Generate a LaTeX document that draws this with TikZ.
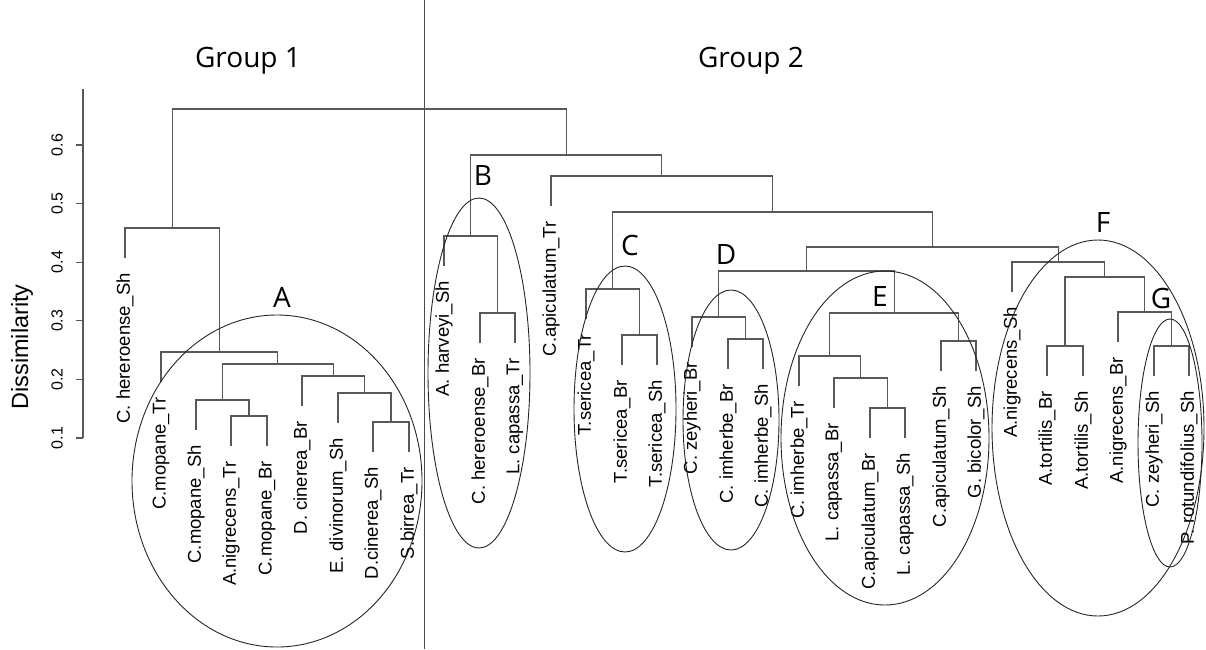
\documentclass[tikz,border=0pt]{standalone}
\usepackage{fontspec}
\setmainfont{Liberation Sans}
\newfontfamily\grpfont{Open Sans}
\begin{document}
\begin{tikzpicture}[x=1pt,y=-1pt,
  dend/.style={draw=black!65, line width=1.1pt},
  lab/.style={rotate=90, anchor=east, inner sep=0pt, font=\fontsize{18.5}{20}\selectfont},
  ell/.style={draw=black!85, line width=0.9pt},
  grp/.style={font=\grpfont\fontsize{28}{30}\selectfont, inner sep=0pt},
  tick/.style={rotate=90, inner sep=0pt, font=\fontsize{16}{18}\selectfont},
]
\useasboundingbox (0,0) rectangle (1206,649);
\newcommand\dleaf[4]{\coordinate (#1) at ({#2},{#3+30}); \node[lab] (#1t) at ({#2},{#3+45}) {#4};}
% divider
\draw[draw=black!70, line width=1pt] (424,0) coordinate (dvt) -- (424,649) coordinate (dvb);
% axis
\coordinate (axt) at (83,89);
\coordinate (axb) at (83,438);
\draw[dend] (axt) -- (axb);
\foreach \v/\yy in {0.1/438,0.2/379.4,0.3/320.8,0.4/262.2,0.5/203.6,0.6/145}{
  \draw[dend] (76,\yy) -- (83,\yy);
  \node[tick] at (57,\yy) {\v};
}
\node[rotate=90, inner sep=0pt, font=\fontsize{23.5}{26}\selectfont] (ylab) at (22,347) {Dissimilarity};
% group titles
\node[grp, anchor=base] (g1) at (248,67) {Group 1};
\node[grp, anchor=base] (g2) at (751,67) {Group 2};
% leaves
\dleaf{l0}{125}{228}{C. hereroense\_Sh}
\dleaf{l1}{161}{352}{C.mopane\_Tr}
\dleaf{l2}{196}{400}{C.mopane\_Sh}
\dleaf{l3}{231}{416}{A.nigrecens\_Tr}
\dleaf{l4}{267}{416}{C.mopane\_Br}
\dleaf{l5}{302}{376}{D. cinerea\_Br}
\dleaf{l6}{338}{393}{E. divinorum\_Sh}
\dleaf{l7}{373}{422}{D.cinerea\_Sh}
\dleaf{l8}{409}{422}{S.birrea\_Tr}
\dleaf{l9}{444}{236}{A. harveyi\_Sh}
\dleaf{l10}{480}{313}{C. hereroense\_Br}
\dleaf{l11}{515}{313}{L. capassa\_Tr}
\dleaf{l12}{551}{176}{C.apiculatum\_Tr}
\dleaf{l13}{586}{289}{T.sericea\_Tr}
\dleaf{l14}{622}{335}{T.sericea\_Br}
\dleaf{l15}{657}{335}{T.sericea\_Sh}
\dleaf{l16}{692}{317}{C. zeyheri\_Br}
\dleaf{l17}{728}{339}{C. imherbe\_Br}
\dleaf{l18}{763}{339}{C. imherbe\_Sh}
\dleaf{l19}{799}{356}{C. imherbe\_Tr}
\dleaf{l20}{834}{378}{L. capassa\_Br}
\dleaf{l21}{870}{408}{C.apiculatum\_Br}
\dleaf{l22}{905}{408}{L. capassa\_Sh}
\dleaf{l23}{941}{341}{C.apiculatum\_Sh}
\dleaf{l24}{976}{341}{G. bicolor\_Sh}
\dleaf{l25}{1012}{262}{A.nigrecens\_Sh}
\dleaf{l26}{1047}{346}{A.tortilis\_Br}
\dleaf{l27}{1083}{346}{A.tortilis\_Sh}
\dleaf{l28}{1118}{312}{A.nigrecens\_Br}
\dleaf{l29}{1154}{346}{C. zeyheri\_Sh}
\dleaf{l30}{1189}{346}{P. rotundifolius\_Sh}
% merge points
\coordinate (m416) at (249,416);
\coordinate (m400) at (222.5,400);
\coordinate (m422) at (391,422);
\coordinate (m393) at (364.5,393);
\coordinate (m376) at (333.25,376);
\coordinate (m364) at (277.9,364);
\coordinate (m352) at (219.4,352);
\coordinate (m228) at (172.2,228);
\coordinate (m313) at (497.5,313);
\coordinate (m236) at (470.75,236);
\coordinate (m335) at (639.5,335);
\coordinate (m289) at (612.75,289);
\coordinate (m339) at (745.5,339);
\coordinate (m317) at (718.75,317);
\coordinate (m408) at (887.5,408);
\coordinate (m378) at (860.75,378);
\coordinate (m356) at (829.9,356);
\coordinate (m341) at (958.5,341);
\coordinate (mE) at (894.2,313);
\coordinate (m271) at (806.5,271);
\coordinate (m346g) at (1171.5,346);
\coordinate (m312) at (1144.75,312);
\coordinate (m346) at (1065,346);
\coordinate (m277) at (1104.9,277);
\coordinate (m262) at (1058.4,262);
\coordinate (m247) at (932.5,247);
\coordinate (m212) at (772.6,212);
\coordinate (m176) at (661.8,176);
\coordinate (m155) at (566.3,155);
\coordinate (root) at (369,109);
% elbows
\foreach \a/\m/\b in {l3/m416/l4, l2/m400/m416, l7/m422/l8, l6/m393/m422, l5/m376/m393,
  m400/m364/m376, l1/m352/m364, l0/m228/m352,
  l10/m313/l11, l9/m236/m313, l14/m335/l15, l13/m289/m335, l17/m339/l18, l16/m317/m339,
  l21/m408/l22, l20/m378/m408, l19/m356/m378, l23/m341/l24, m356/mE/m341, m317/m271/mE,
  l29/m346g/l30, l28/m312/m346g, l26/m346/l27, m346/m277/m312, l25/m262/m277,
  m271/m247/m262, m289/m212/m247, l12/m176/m212, m236/m155/m176, m228/root/m155}{
  \draw[dend] (\a) |- (\m) -| (\b);
}
% cluster ellipses
\draw[ell] (277,481) ellipse [x radius=145pt, y radius=166pt];
\draw[ell] (479,373) ellipse [x radius=51pt, y radius=175pt];
\draw[ell] (625,409) ellipse [x radius=51pt, y radius=143pt];
\draw[ell] (731,420) ellipse [x radius=48pt, y radius=130pt];
\draw[ell] (885,438) ellipse [x radius=104pt, y radius=167pt];
\draw[ell] (1098,428) ellipse [x radius=106pt, y radius=188pt];
\draw[ell] (1170,443) ellipse [x radius=32pt, y radius=124pt];
% cluster letters
\node[grp] (cA) at (282,297) {A};
\node[grp] (cB) at (483,175) {B};
\node[grp] (cC) at (630,245) {C};
\node[grp] (cD) at (726,254) {D};
\node[grp] (cE) at (880,296) {E};
\node[grp] (cF) at (1103,222) {F};
\node[grp] (cG) at (1161,298) {G};
\end{tikzpicture}
\end{document}
